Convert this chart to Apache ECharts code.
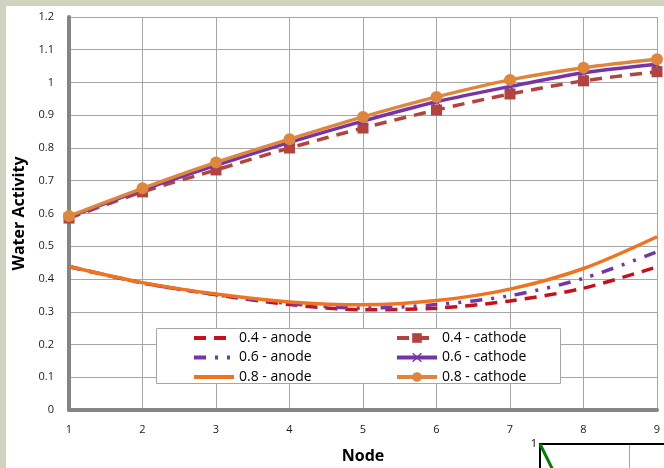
<!DOCTYPE html>
<html>
<head>
<meta charset="utf-8">
<script src="https://cdn.jsdelivr.net/npm/echarts@6/dist/echarts.min.js"></script>
<style>
  html, body { margin: 0; padding: 0; }
  #main { width: 664px; height: 468px; }
</style>
</head>
<body>
<div id="main"></div>
<script>
// nodes along the channel
var nodes = ["1", "2", "3", "4", "5", "6", "7", "8", "9"];

// water activity, anode side
var anode04 = [0.438, 0.388, 0.352, 0.322, 0.306, 0.311, 0.333, 0.372, 0.437];
var anode06 = [0.438, 0.388, 0.352, 0.325, 0.311, 0.322, 0.349, 0.402, 0.483];
var anode08 = [0.438, 0.389, 0.354, 0.330, 0.321, 0.334, 0.369, 0.432, 0.529];

// water activity, cathode side
var cathode04 = [0.586, 0.666, 0.733, 0.800, 0.861, 0.916, 0.965, 1.005, 1.033];
var cathode06 = [0.589, 0.672, 0.747, 0.817, 0.882, 0.941, 0.988, 1.030, 1.056];
var cathode08 = [0.592, 0.677, 0.756, 0.827, 0.895, 0.956, 1.008, 1.045, 1.071];

// corner of the next chart peeking in at the bottom right
var insetX = [0, 0.3];
var insetY = [1, 0.73];

var anodeNames = ["0.4 - anode", "0.6 - anode", "0.8 - anode"];
var cathodeNames = ["0.4 - cathode", "0.6 - cathode", "0.8 - cathode"];

var font = "Open Sans";
var xMark = "path://M0,1L1,0L5,4L9,0L10,1L6,5L10,9L9,10L5,6L1,10L0,9L4,5Z";

var myChart = echarts.init(document.getElementById("main"));

function lineSeries(name, data, color, dash, width, symbol, size, z) {
  return {
    name: name,
    type: "line",
    data: data,
    smooth: 0.3,
    z: z,
    symbol: symbol || "none",
    symbolSize: size || 0,
    showSymbol: !!symbol,
    itemStyle: { color: color },
    lineStyle: { color: color, width: width, type: dash || "solid" },
    emphasis: { disabled: true }
  };
}

var legendText = { fontFamily: font, fontSize: 14, color: "#000" };

var option = {
  backgroundColor: "#CFD3BF",
  animation: false,
  graphic: [
    { type: "rect", shape: { x: 6, y: 6, width: 658, height: 462 }, style: { fill: "#ffffff" }, z: -10 },
    { type: "rect", shape: { x: 156.5, y: 328.5, width: 404, height: 55 }, style: { fill: "#ffffff", stroke: "#A6A6A6", lineWidth: 1 }, z: 50 }
  ],
  grid: [
    { left: 69, top: 17, right: 7, bottom: 58, outerBoundsMode: "none" },
    { left: 540, top: 444, width: 356, height: 200, outerBoundsMode: "none" }
  ],
  legend: [
    {
      // anode lines have no marker, so hide the legend dot
      data: anodeNames.map(function (n) { return { name: n, itemStyle: { opacity: 0 } }; }),
      orient: "vertical",
      left: 192, top: 331,
      itemWidth: 40, itemHeight: 12, itemGap: 5.5,
      padding: 0, z: 60,
      lineStyle: { width: 4 },
      textStyle: legendText
    },
    {
      data: cathodeNames,
      orient: "vertical",
      left: 395, top: 331,
      itemWidth: 40, itemHeight: 12, itemGap: 5.5,
      padding: 0, z: 60,
      lineStyle: { width: 4 },
      textStyle: legendText
    }
  ],
  xAxis: [
    {
      type: "category",
      data: nodes,
      boundaryGap: false,
      name: "Node",
      nameLocation: "middle",
      nameGap: 38,
      nameTextStyle: { fontFamily: font, fontSize: 16, fontWeight: "bold", color: "#000" },
      axisLine: { lineStyle: { color: "#858585", width: 4 } },
      axisTick: { show: false },
      axisLabel: { fontFamily: font, fontSize: 11, color: "#1a1a1a", margin: 14 },
      splitLine: { show: true, lineStyle: { color: "#A6A6A6", width: 1 } }
    },
    {
      type: "value",
      gridIndex: 1,
      min: 0, max: 4, interval: 1,
      position: "top",
      axisLine: { onZero: false, lineStyle: { color: "#000", width: 2 } },
      axisTick: { show: false },
      axisLabel: { show: false },
      splitLine: { show: true, lineStyle: { color: "#A6A6A6", width: 1 } }
    }
  ],
  yAxis: [
    {
      type: "value",
      min: 0, max: 1.2, interval: 0.1,
      name: "Water Activity",
      nameLocation: "middle",
      nameGap: 42,
      nameTextStyle: { fontFamily: font, fontSize: 16, fontWeight: "bold", color: "#000" },
      axisLine: { show: true, lineStyle: { color: "#858585", width: 4 } },
      axisTick: { show: false },
      axisLabel: { fontFamily: font, fontSize: 11, color: "#1a1a1a", margin: 15 },
      splitLine: { show: true, lineStyle: { color: "#A6A6A6", width: 1 } }
    },
    {
      type: "value",
      gridIndex: 1,
      min: 0, max: 1, interval: 1,
      axisLine: { show: true, onZero: false, lineStyle: { color: "#000", width: 2 } },
      axisTick: { show: false },
      axisLabel: {
        fontFamily: font, fontSize: 11, color: "#000", margin: 3,
        formatter: function (v) { return v === 1 ? "1" : ""; }
      },
      splitLine: { show: false }
    }
  ],
  series: [
    lineSeries(anodeNames[0], anode04, "#C8101A", [12, 8], 3.5, null, 0, 2),
    lineSeries(anodeNames[1], anode06, "#7535A8", [12, 9, 3, 9, 3, 9], 3.5, null, 0, 3),
    lineSeries(anodeNames[2], anode08, "#EE7420", null, 3.5, null, 0, 4),
    lineSeries(cathodeNames[0], cathode04, "#B3433F", [12, 8], 3.5, "rect", 11, 5),
    lineSeries(cathodeNames[1], cathode06, "#7535A8", null, 3.5, xMark, 8, 6),
    lineSeries(cathodeNames[2], cathode08, "#E0853C", null, 3.5, "circle", 12, 7),
    {
      type: "line",
      xAxisIndex: 1,
      yAxisIndex: 1,
      data: insetX.map(function (x, i) { return [x, insetY[i]]; }),
      symbol: "none",
      lineStyle: { color: "#008000", width: 3 },
      silent: true
    }
  ]
};

myChart.setOption(option);
</script>
</body>
</html>
